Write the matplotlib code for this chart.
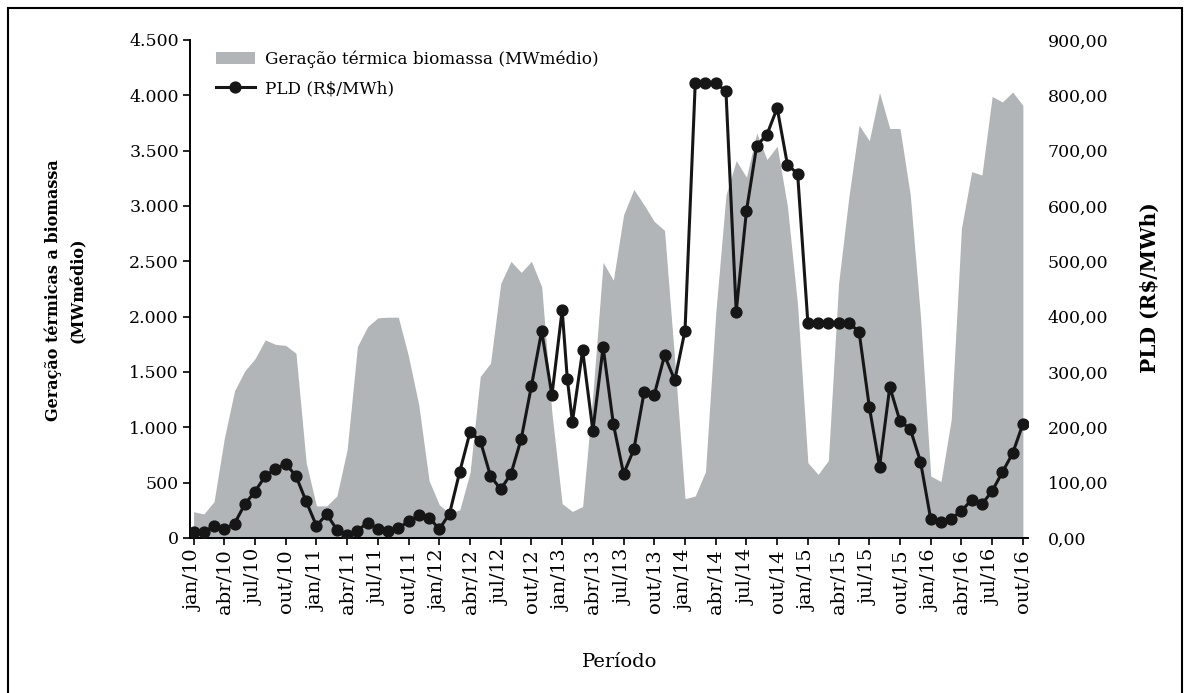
import numpy as np
import matplotlib
matplotlib.use("Agg")
import matplotlib.pyplot as plt
from matplotlib.patches import Rectangle
from matplotlib.ticker import FuncFormatter

plt.rcParams['font.family'] = ['DejaVu Serif']

# meses desde jan/10 (0 = jan/10 ... 81 = out/16)
meses = np.arange(82)

# Geração térmica biomassa (MWmédio), mensal
geracao = [238, 217, 329, 900, 1330, 1510, 1620, 1790, 1750, 1740, 1670, 680,
           290, 290, 380, 800, 1730, 1910, 1990, 1995, 1995, 1640, 1200, 520,
           300, 225, 255, 590, 1460, 1580, 2300, 2500, 2400, 2500, 2270, 1130,
           310, 240, 285, 1300, 2490, 2330, 2920, 3150, 3010, 2860, 2780, 1600,
           355, 380, 600, 2030, 3100, 3410, 3260, 3660, 3420, 3540, 3000, 2100,
           680, 575, 700, 2300, 3080, 3730, 3590, 4025, 3700, 3700, 3100, 2000,
           560, 510, 1070, 2800, 3310, 3280, 3990, 3940, 4030, 3910]

# PLD (R$/MWh) - jan/13 tem dois valores
pld_meses = np.insert(meses.astype(float), 37, 36.5)
pld = [10, 10, 22, 16, 26, 61, 84, 112, 125, 134, 112, 66,
       22, 43, 15, 5, 13, 28, 16, 12, 18, 30, 41, 37,
       16, 44, 120, 191, 176, 112, 88, 116, 179, 275, 374, 258,
       412, 288, 210, 339, 194, 345, 206, 116, 160, 263, 259, 330, 285,
       375, 822.83, 822.83, 822.83, 807, 409, 591, 709, 729, 777, 675, 658,
       388.48, 388.48, 388.48, 388.48, 388.48, 373, 237, 129, 273, 211, 197, 138,
       34, 29, 35, 49, 69, 61, 85, 119, 153, 206]

rotulos_x = ['jan/10', 'abr/10', 'jul/10', 'out/10', 'jan/11', 'abr/11', 'jul/11',
             'out/11', 'jan/12', 'abr/12', 'jul/12', 'out/12', 'jan/13', 'abr/13',
             'jul/13', 'out/13', 'jan/14', 'abr/14', 'jul/14', 'out/14', 'jan/15',
             'abr/15', 'jul/15', 'out/15', 'jan/16', 'abr/16', 'jul/16', 'out/16']
ticks_esq = [0, 500, 1000, 1500, 2000, 2500, 3000, 3500, 4000, 4500]
ticks_dir = [0, 100, 200, 300, 400, 500, 600, 700, 800, 900]

W, H = 1190, 693
fig = plt.figure(figsize=(W / 100, H / 100), dpi=100)
ax = fig.add_axes([190 / W, 1 - 538 / H, (1028 - 190) / W, (538 - 40) / H])

area = ax.fill_between(meses, 0, geracao, color='#b1b5b7', lw=0,
                       label='Geração térmica biomassa (MWmédio)')
ax.set_xlim(-0.35, 81.5)
ax.set_ylim(0, 4500)
ax.set_yticks(ticks_esq)
ax.yaxis.set_major_formatter(FuncFormatter(lambda v, p: f"{int(v):,}".replace(",", ".")))
ax.set_xticks(meses[::3])
ax.set_xticklabels(rotulos_x, rotation=90)
ax.tick_params(axis='both', direction='out', length=5, width=1.2, labelsize=12.5, pad=3)
ax.tick_params(axis='x', labelsize=14)
for s in ['top', 'right']:
    ax.spines[s].set_visible(False)
ax.spines['left'].set_linewidth(1.4)
ax.spines['bottom'].set_linewidth(1.4)

ax2 = ax.twinx()
linha, = ax2.plot(pld_meses, pld, color='#161616', lw=2.2, marker='o', ms=7.8,
                  label='PLD (R$/MWh)')
ax2.set_ylim(0, 900)
ax2.set_yticks(ticks_dir)
ax2.yaxis.set_major_formatter(FuncFormatter(lambda v, p: f"{v:.2f}".replace(".", ",")))
ax2.tick_params(axis='y', length=0, labelsize=12.5, pad=14)
for s in ax2.spines.values():
    s.set_visible(False)

ax2.legend([area, linha], [area.get_label(), linha.get_label()],
           loc='upper left', bbox_to_anchor=(216 / W, 1 - 50 / H),
           bbox_transform=fig.transFigure, frameon=False, fontsize=12.2,
           handlelength=2.3, handletextpad=0.6, labelspacing=0.75,
           borderpad=0, borderaxespad=0)

fig.text(66 / W, 1 - 290 / H, 'Geração térmicas a biomassa\n(MWmédio)', rotation=90,
         ha='center', va='center', fontsize=11.5, fontweight='bold', linespacing=1.6)
fig.text(1150 / W, 1 - 288 / H, 'PLD (R$/MWh)', rotation=90,
         ha='center', va='center', fontsize=14.5, fontweight='bold')
fig.text(620 / W, 1 - 662 / H, 'Período', ha='center', va='center', fontsize=14)

fig.patches.append(Rectangle((8 / W, -0.05), (1182 - 8) / W, 1 - 8 / H + 0.05,
                             transform=fig.transFigure, fill=False,
                             ec='black', lw=1.5))

fig.savefig('out.png', dpi=100)
